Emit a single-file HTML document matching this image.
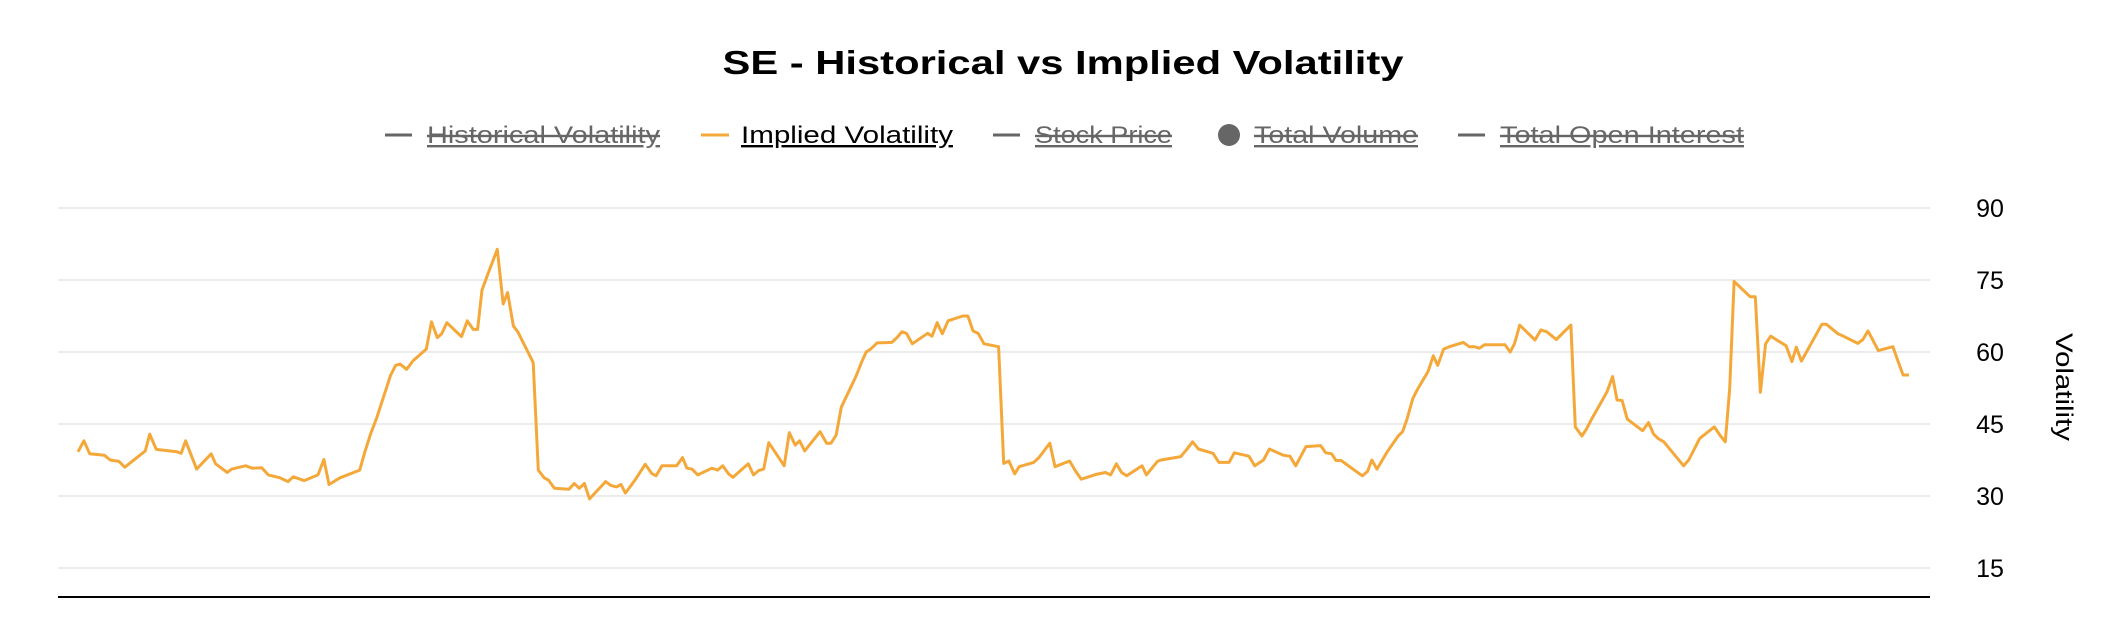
<!DOCTYPE html>
<html><head><meta charset="utf-8"><style>
html,body{margin:0;padding:0;background:#fff;}
svg{display:block;font-family:"Liberation Sans",sans-serif;}
</style></head><body>
<svg width="2126" height="644" viewBox="0 0 2126 644">
<text x="1063" y="74" text-anchor="middle" font-size="33" font-weight="bold" fill="#000" textLength="681" lengthAdjust="spacingAndGlyphs">SE - Historical vs Implied Volatility</text>
<g font-size="24">
 <g>
  <line x1="385" y1="135" x2="412" y2="135" stroke="#666" stroke-width="3"/>
  <text x="427" y="143" fill="#666" textLength="233" lengthAdjust="spacingAndGlyphs" text-decoration="line-through underline">Historical Volatility</text>
 </g>
 <g>
  <line x1="701" y1="135" x2="729" y2="135" stroke="#f5a83a" stroke-width="3"/>
  <text x="741" y="143" fill="#000" textLength="212" lengthAdjust="spacingAndGlyphs" text-decoration="underline">Implied Volatility</text>
 </g>
 <g>
  <line x1="993" y1="135" x2="1020" y2="135" stroke="#666" stroke-width="3"/>
  <text x="1035" y="143" fill="#666" textLength="137" lengthAdjust="spacingAndGlyphs" text-decoration="line-through underline">Stock Price</text>
 </g>
 <g>
  <circle cx="1229" cy="135" r="11" fill="#666"/>
  <text x="1254" y="143" fill="#666" textLength="164" lengthAdjust="spacingAndGlyphs" text-decoration="line-through underline">Total Volume</text>
 </g>
 <g>
  <line x1="1458" y1="135" x2="1485" y2="135" stroke="#666" stroke-width="3"/>
  <text x="1500" y="143" fill="#666" textLength="244" lengthAdjust="spacingAndGlyphs" text-decoration="line-through underline">Total Open Interest</text>
 </g>
</g>
<g id="grid"></g>
<g id="yticks" font-size="25" fill="#000"></g>
<line x1="58" y1="597" x2="1930" y2="597" stroke="#000" stroke-width="2"/>
<text transform="translate(2056,387) rotate(90)" text-anchor="middle" font-size="24" fill="#000" textLength="108" lengthAdjust="spacingAndGlyphs">Volatility</text>
<path id="iv" fill="none" stroke="#f5a83a" stroke-width="3" stroke-linejoin="round"/>
</svg>
<script>
const yTicks = [15, 30, 45, 60, 75, 90];
const ivDays = [0,0.8,1.6,3.6,4.4,5.6,6.4,9.2,9.8,10.7,13.5,14.1,14.7,16.2,18.2,18.8,20.4,21.0,22.9,23.8,25.1,26.0,27.6,28.7,29.4,30.9,32.8,33.6,34.3,35.8,38.5,39.2,40.0,40.8,42.7,43.4,44.0,44.9,45.8,47.6,48.3,49.1,49.7,50.4,52.4,53.2,54.0,54.6,55.2,56.0,57.3,58.1,58.7,59.5,60.1,62.2,62.9,63.7,64.3,65.1,67.1,67.8,68.5,69.2,69.9,72.1,72.8,73.6,74.2,74.8,76.2,77.5,78.4,79.0,79.8,81.8,82.6,83.2,83.9,84.7,86.6,87.4,88.1,88.9,89.5,91.6,92.3,93.0,93.7,94.4,96.5,97.2,98.0,98.6,99.3,101.4,102.3,102.9,103.6,104.3,106.3,107.1,107.7,108.3,109.2,111.2,111.9,112.6,113.2,114.0,116.1,116.7,117.4,118.1,118.9,120.9,121.6,122.3,123.0,123.8,125.8,126.5,127.2,128.0,128.6,130.6,131.3,132.8,133.5,135.5,136.3,137.1,139.1,140.4,141.1,141.9,142.6,143.3,145.4,146.0,147.5,148.0,150.7,151.5,152.3,153.1,155.1,155.9,157.3,158.0,160.0,160.8,162.0,162.8,164.7,165.6,166.4,167.8,169.8,170.5,171.3,171.9,172.6,175.5,176.2,176.8,177.5,178.9,180.4,181.0,181.6,182.4,183.0,184.5,185.2,185.8,186.6,187.4,189.3,190.1,190.8,191.5,192.2,195.0,195.7,196.3,197.0,199.1,199.9,200.7,202.0,204.0,204.6,205.5,206.1,206.9,208.9,209.7,210.3,211.0,211.7,213.8,214.6,215.3,215.9,216.7,219.4,220.1,220.9,221.6,223.6,224.4,225.1,225.7,226.3,228.5,229.2,229.9,230.6,231.3,233.4,234.2,234.8,235.5,238.3,238.9,240.5,241.1,243.2,243.9,244.6,246.0,248.0,248.6,249.4,250.2];
const ivValues = [39.2,41.5,38.8,38.5,37.5,37.2,36,39.4,42.9,39.7,39.2,38.9,41.5,35.6,38.8,36.7,34.9,35.6,36.3,35.8,35.9,34.4,33.8,33,34,33.2,34.4,37.6,32.4,33.8,35.4,39.2,43,46.2,55.1,57.2,57.5,56.4,58.2,60.6,66.3,63,63.8,66.1,63.2,66.5,64.7,64.7,72.9,76.2,81.4,70,72.4,65.4,64.2,57.8,35.4,33.8,33.3,31.6,31.4,32.6,31.6,32.6,29.4,33,32.2,31.9,32.4,30.6,33.5,36.6,34.7,34.2,36.3,36.3,38,35.8,35.6,34.4,35.8,35.4,36.3,34.6,33.9,36.7,34.4,35.3,35.6,41.1,36.3,43.2,40.6,41.5,39.4,43.4,41,41,42.7,48.5,54.9,58,60,60.6,61.9,62,63,64.2,63.9,61.7,63.9,63.3,66.1,63.8,66.5,67.5,67.5,64.4,63.9,61.7,61.1,36.8,37.3,34.6,36.1,37,38,41,36.1,37.3,35.2,33.5,34.5,34.9,34.4,36.7,34.9,34.2,36.3,34.4,37.2,37.5,38.2,39.7,41.3,39.8,38.9,37,37,39,38.3,36.3,37.5,39.8,38.5,38.3,36.3,40.3,40.5,39,38.8,37.4,37.4,34.2,35.1,37.5,35.6,39.2,42.5,43.4,46,50.3,52.1,56,59.2,57.2,60.6,61.1,62,61.1,61.1,60.8,61.5,61.5,60,61.8,65.6,62.5,64.6,64.2,62.6,65.6,44.4,42.5,43.9,46.2,51.6,54.9,50,49.9,46,43.6,45.3,42.9,42,41.3,36.3,37.5,39.9,42,44.4,42.6,41.3,52.4,74.7,71.5,71.5,51.6,61.7,63.3,61.3,58,61,58.1,65.8,65.8,63.8,63.4,61.8,62.6,64.4,60.3,61.1,58.5,55.2,55.2];

const NS = 'http://www.w3.org/2000/svg';
const X0 = 78, X1 = 1909, dMin = 0, dMax = 250.2;
function xScale(d){ return X0 + (d - dMin) / (dMax - dMin) * (X1 - X0); }
function yScale(v){ return 568 - (v - 15) * 4.8; }

const grid = document.getElementById('grid');
const yt = document.getElementById('yticks');
yTicks.forEach(t => {
  const l = document.createElementNS(NS, 'line');
  l.setAttribute('x1', 58); l.setAttribute('x2', 1930);
  l.setAttribute('y1', yScale(t)); l.setAttribute('y2', yScale(t));
  l.setAttribute('stroke', '#e6e6e6'); l.setAttribute('stroke-width', 1.5);
  
  
  grid.appendChild(l);
  const tx = document.createElementNS(NS, 'text');
  tx.setAttribute('x', 1990); tx.setAttribute('y', yScale(t) + 9);
  tx.setAttribute('text-anchor', 'middle');
  tx.textContent = t;
  
  
  yt.appendChild(tx);
});

let d = '';
ivValues.forEach((v, i) => {
  d += (i ? 'L' : 'M') + xScale(ivDays[i]).toFixed(1) + ' ' + yScale(v).toFixed(1);
});
document.getElementById('iv').setAttribute('d', d);
</script>
</body></html>
